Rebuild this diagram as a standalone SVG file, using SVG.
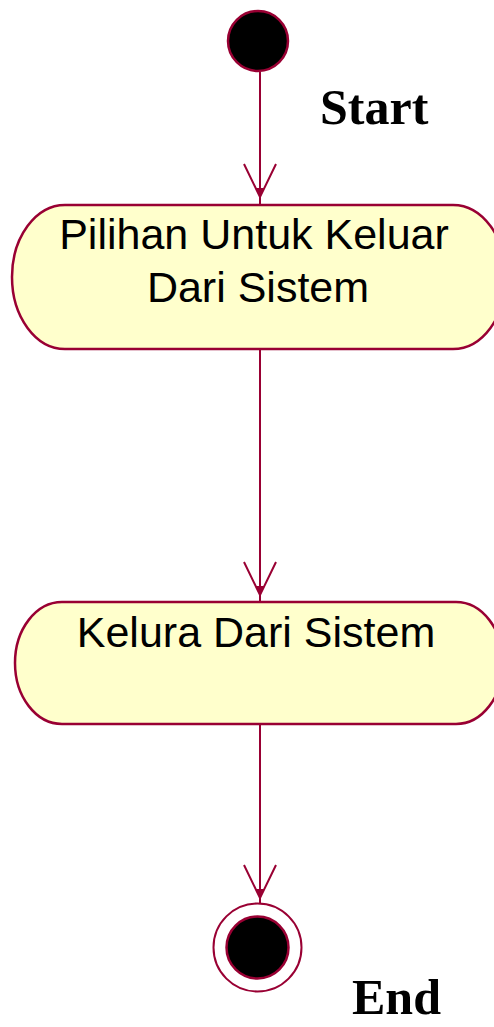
<svg xmlns="http://www.w3.org/2000/svg" width="494" height="1027" viewBox="0 0 494 1027">
<style>
.ln{stroke:#990033;stroke-width:2;fill:none}
.act{fill:#FFFFCC;stroke:#990033;stroke-width:2.5}
.lbl{font-family:"Liberation Sans",Arial,sans-serif;font-size:43px;fill:#000;text-anchor:middle}
.big{font-family:"Liberation Serif","Times New Roman",serif;font-weight:bold;font-size:50px;fill:#000}
</style>
<defs>
<g id="ah">
<path d="M-16,-33 L0,0 L16,-33" class="ln"/>
<path d="M-4,-9 L4,-9 L0,0 Z" fill="#990033"/>
</g>
</defs>
<rect width="494" height="1027" fill="#fff"/>
<g id="connectors">
<line x1="260" y1="72" x2="260" y2="204" class="ln"/>
<use href="#ah" transform="translate(260,197)"/>
<line x1="260" y1="349" x2="260" y2="602" class="ln"/>
<use href="#ah" transform="translate(260,595)"/>
<line x1="260" y1="724" x2="260" y2="903" class="ln"/>
<use href="#ah" transform="translate(260,898)"/>
</g>
<g id="start">
<circle cx="258" cy="41" r="30" fill="#000" stroke="#990033" stroke-width="2.5"/>
<text x="320" y="124" class="big">Start</text>
</g>
<g id="node1">
<path class="act" d="M65,205 L453,205 A53,72 0 0 1 453,349 L65,349 A53,72 0 0 1 65,205 Z"/>
<text x="254" y="249" class="lbl">Pilihan Untuk Keluar</text>
<text x="258" y="302" class="lbl">Dari Sistem</text>
</g>
<g id="node2">
<path class="act" d="M62,602 L456,602 A47,61 0 0 1 456,724 L62,724 A47,61 0 0 1 62,602 Z"/>
<text x="256" y="647" class="lbl">Kelura Dari Sistem</text>
</g>
<g id="end">
<circle cx="257.5" cy="947.5" r="44" fill="none" stroke="#990033" stroke-width="2"/>
<circle cx="257.5" cy="947.5" r="31" fill="#000" stroke="#990033" stroke-width="2.5"/>
<text x="352" y="1014" class="big">End</text>
</g>
</svg>
